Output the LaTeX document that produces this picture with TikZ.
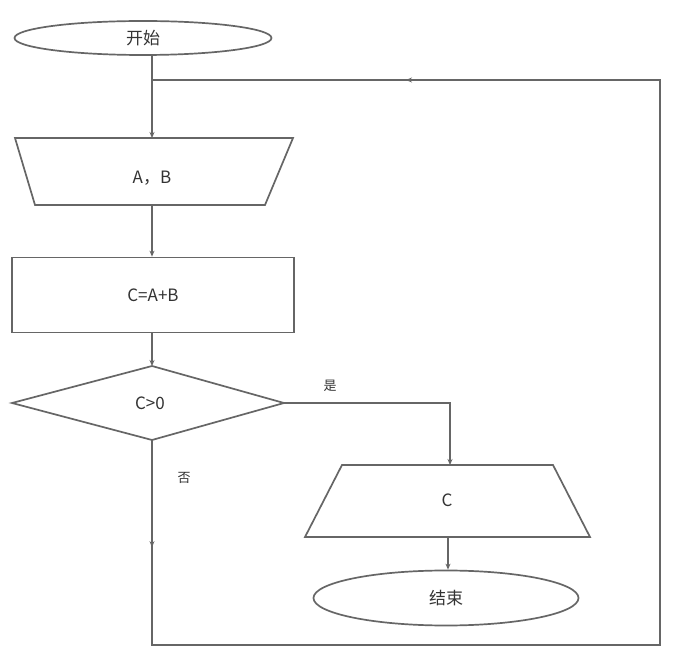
\documentclass[tikz,border=0pt]{standalone}
\usepackage{fontspec}
\newfontfamily\cjk{Noto Sans CJK SC}
\usetikzlibrary{shapes.geometric,arrows.meta,decorations.markings}
\begin{document}
\begin{tikzpicture}[x=1pt,y=-1pt,
  every node/.style={font=\fontsize{17}{20}\selectfont\cjk,text=black!80},
  flow/.style={draw=black!60,line width=1.7pt},
  arr/.style={flow,-{Stealth[length=6pt,width=5pt]}},
  midarr/.style={flow,postaction={decorate},decoration={markings,mark=at position #1 with {\arrow{Stealth[length=6pt,width=5pt]}}}},
  term/.style={ellipse,draw=black!60,line width=1.7pt,inner sep=0pt},
  lbl/.style={font=\fontsize{13}{15}\selectfont\cjk,text=black!80}]
\useasboundingbox (0,0) rectangle (673,652);
\fill[white] (0,0) rectangle (673,652);
% start
\node[term,minimum width=257,minimum height=34] (start) at (143,38) {开始};
% input trapezoid
\coordinate (inT) at (152,138);
\coordinate (inB) at (152,205);
\draw[flow] (15,138) -- (293,138) -- (265,205) -- (35,205) -- cycle;
\node (in) at (152,178) {A，B};
% process
\node[draw=black!60,line width=1.7pt,minimum width=282,minimum height=75] (proc) at (153,295) {C=A+B};
% decision
\coordinate (dL) at (12,403);
\coordinate (dT) at (152,366);
\coordinate (dR) at (284,403);
\coordinate (dB) at (152,440);
\draw[flow] (dL) -- (dT) -- (dR) -- (dB) -- cycle;
\node (dec) at (150,403) {C>0};
% output trapezoid
\coordinate (oT) at (448,465);
\coordinate (oB) at (448,537);
\draw[flow] (342,465) -- (553,465) -- (590,537) -- (305,537) -- cycle;
\node (out) at (447,500) {C};
% end
\node[term,minimum width=265,minimum height=55] (end) at (446,598) {结束};
% corner coordinates
\coordinate (j) at (152,80);
\coordinate (yc) at (450,403);
\coordinate (bl) at (152,645);
\coordinate (br) at (660,645);
\coordinate (tr) at (660,80);
% connectors
\draw[arr] (inT |- start.south) -- (inT);
\draw[arr] (inB) -- (inB |- proc.north);
\draw[arr] (dT |- proc.south) -- (dT);
\draw[arr] (dR) -- (yc) -- (yc |- oT);
\draw[arr] (oB) -- (oB |- end.north);
\draw[midarr=0.06] (dB) -- (bl) -- (br) -- (tr) -- (j);
\draw[midarr=0.5] (tr) -- (j);
% labels
\node[lbl] (yes) at (330,386) {是};
\node[lbl] (no) at (184,478) {否};
\end{tikzpicture}
\end{document}
